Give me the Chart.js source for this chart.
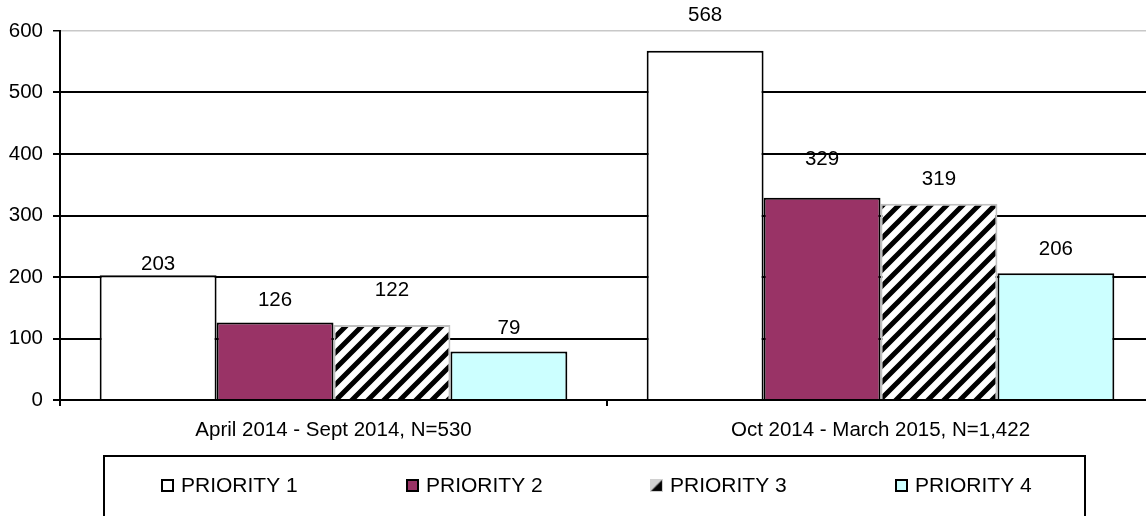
<!DOCTYPE html>
<html>
<head>
<meta charset="utf-8">
<script src="https://cdn.jsdelivr.net/npm/chart.js@4"></script>
<style>
  html, body { margin: 0; padding: 0; background: #fff; overflow: hidden; }
  #wrap { width: 1146px; height: 516px; overflow: hidden; position: relative; }
  canvas { display: block; }
</style>
</head>
<body>
<div id="wrap"><canvas id="c" width="1160" height="516"></canvas></div>
<script>
const categories = ['April 2014 - Sept 2014, N=530', 'Oct 2014 - March 2015, N=1,422'];
const seriesNames = ['PRIORITY 1', 'PRIORITY 2', 'PRIORITY 3', 'PRIORITY 4'];
const priority1 = [203, 568];
const priority2 = [126, 329];
const priority3 = [122, 319];
const priority4 = [79, 206];
const yTickValues = [0, 100, 200, 300, 400, 500, 600];

const FONT = '"Liberation Sans", Arial, sans-serif';

function makeHatch() {
  const s = 16;
  const c = document.createElement('canvas');
  c.width = s; c.height = s;
  const g = c.getContext('2d');
  g.fillStyle = '#fff';
  g.fillRect(0, 0, s, s);
  g.strokeStyle = '#000';
  g.lineWidth = 5;
  g.beginPath();
  for (let k = -1; k <= 1; k++) {
    g.moveTo(k * s - 2, s + 2);
    g.lineTo(k * s + s + 2, -2);
  }
  g.stroke();
  return g.createPattern(c, 'repeat');
}
function makeLegendHatch() {
  const c = document.createElement('canvas');
  c.width = 12; c.height = 12;
  const g = c.getContext('2d');
  g.fillStyle = '#d0d0d0';
  g.fillRect(0, 0, 12, 12);
  g.fillStyle = '#000';
  g.beginPath();
  g.moveTo(11, 1); g.lineTo(11, 11); g.lineTo(1, 11); g.closePath();
  g.fill();
  return c;
}
const ctx = document.getElementById('c').getContext('2d');
const hatch = makeHatch();
const legendHatch = makeLegendHatch();

// label offsets above bar tops (px), per series, per category (styling only)
const labelOffsetsPx = [[11, 35], [22, 38], [35, 24], [23, 24]];

const valueLabels = {
  id: 'valueLabels',
  afterDatasetsDraw(chart) {
    const c = chart.ctx;
    c.save();
    c.font = '20.5px ' + FONT;
    c.fillStyle = '#000';
    c.textAlign = 'center';
    c.textBaseline = 'middle';
    chart.data.datasets.forEach((ds, di) => {
      const meta = chart.getDatasetMeta(di);
      meta.data.forEach((el, i) => {
        const off = labelOffsetsPx[di][i];
        c.fillText(String(ds.data[i]), el.x, el.y - off);
      });
    });
    c.restore();
  }
};

const boxLegend = {
  id: 'boxLegend',
  afterDraw(chart) {
    const c = chart.ctx;
    c.save();
    const bx = 104, by = 456, bw = 981, bh = 80;
    c.strokeStyle = '#000';
    c.lineWidth = 2;
    c.strokeRect(bx, by, bw, bh);
    c.font = '21px ' + FONT;
    c.textBaseline = 'middle';
    c.textAlign = 'left';
    const box = 13, gapText = 7, itemGap = 108;
    const widths = chart.data.datasets.map(ds => box + gapText + c.measureText(ds.label).width);
    const total = widths.reduce((a, b) => a + b, 0) + itemGap * (widths.length - 1);
    let x = Math.round(bx + bw / 2 - total / 2) + 2;
    const cy = 485;
    chart.data.datasets.forEach((ds, i) => {
      const top = cy - Math.floor(box / 2);
      const xi = Math.round(x);
      if (ds.backgroundColor === hatch) {
        c.drawImage(legendHatch, xi, top, box, box);
      } else {
        c.fillStyle = ds.backgroundColor;
        c.fillRect(xi, top, box, box);
        c.strokeStyle = ds.borderColor;
        c.lineWidth = 2;
        c.strokeRect(xi + 1, top + 1, box - 2, box - 2);
      }
      c.fillStyle = '#000';
      c.fillText(ds.label, xi + box + gapText, cy + 1);
      x += widths[i] + itemGap;
    });
    c.restore();
  }
};

const seriesValues = [priority1, priority2, priority3, priority4];
const fills = ['#ffffff', '#993366', hatch, '#ccffff'];
const borders = ['#000000', '#000000', '#c0c0c0', '#000000'];

new Chart(ctx, {
  type: 'bar',
  data: {
    labels: categories,
    datasets: seriesNames.map((name, i) => ({
      label: name,
      data: seriesValues[i],
      backgroundColor: fills[i],
      borderColor: borders[i],
      borderWidth: 2,
      borderSkipped: 'bottom',
      barPercentage: 1.0,
      categoryPercentage: 0.855
    }))
  },
  options: {
    responsive: false,
    animation: false,
    devicePixelRatio: 1,
    layout: { padding: { top: 31, right: 6, left: 0, bottom: 0 } },
    plugins: { legend: { display: false }, tooltip: { enabled: false } },
    scales: {
      x: {
        offset: true,
        afterFit(s) { s.height = 116; },
        grid: { display: true, offset: true, drawOnChartArea: false, drawTicks: true, tickLength: 6, color: '#000', lineWidth: 2 },
        border: { display: true, color: '#000', width: 2 },
        ticks: { color: '#000', font: { size: 20.5, family: FONT }, padding: 12, maxRotation: 0 }
      },
      y: {
        min: 0, max: 600,
        afterFit(s) { s.width = 60; },
        afterBuildTicks(s) { s.ticks = yTickValues.map(v => ({ value: v })); },
        grid: {
          color: (c) => (c.tick && c.tick.value === 600) ? '#c8c8c8' : '#000',
          lineWidth: (c) => (c.tick && c.tick.value === 600) ? 1.5 : 2,
          tickColor: '#000',
          tickLength: 7,
          drawTicks: true
        },
        border: { display: true, color: '#000', width: 2 },
        ticks: { color: '#000', font: { size: 20.5, family: FONT }, padding: 10 }
      }
    }
  },
  plugins: [valueLabels, boxLegend]
});
</script>
</body>
</html>
